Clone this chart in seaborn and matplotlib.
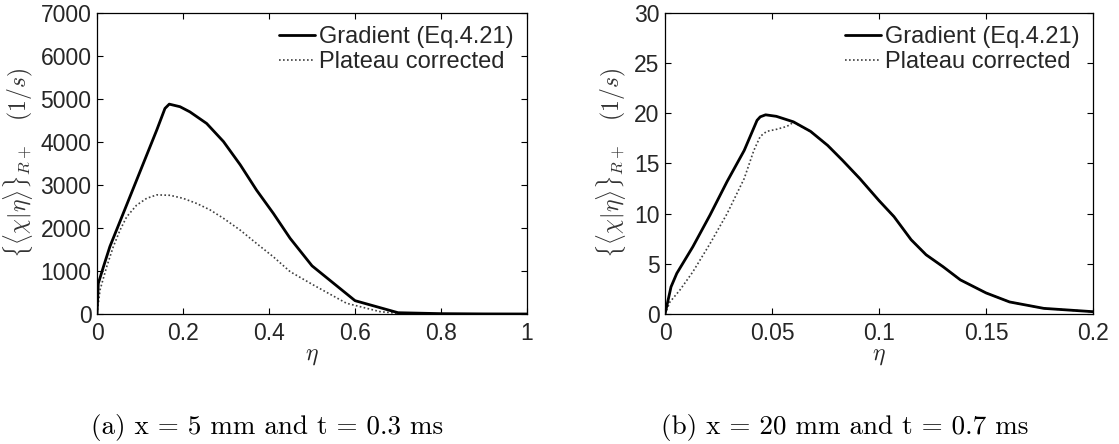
import numpy as np
import pandas as pd
import matplotlib
matplotlib.use("Agg")
import matplotlib.pyplot as plt
import seaborn as sns

# ---- panel (a): x = 5 mm, t = 0.3 ms ----
eta_grad_a = [0, 0.003, 0.015, 0.03, 0.061, 0.1, 0.139, 0.158, 0.168, 0.193, 0.216,
              0.255, 0.294, 0.333, 0.371, 0.41, 0.449, 0.5, 0.6, 0.7, 0.8, 0.9, 1.0]
chi_grad_a = [0, 710, 1100, 1570, 2340, 3310, 4280, 4780, 4880, 4820, 4700,
              4430, 4010, 3470, 2880, 2340, 1760, 1120, 310, 30, 8, 2, 0]

eta_plat_a = [0, 0.007, 0.0225, 0.038, 0.0535, 0.069, 0.092, 0.1155, 0.139, 0.17, 0.2,
              0.232, 0.263, 0.294, 0.333, 0.371, 0.41, 0.449, 0.503, 0.58, 0.658, 0.7, 0.8, 1.0]
chi_plat_a = [0, 560, 1100, 1570, 1950, 2260, 2530, 2690, 2770, 2760, 2690,
              2570, 2420, 2225, 1950, 1640, 1330, 985, 675, 250, 55, 15, 3, 0]

# ---- panel (b): x = 20 mm, t = 0.7 ms ----
eta_grad_b = [0, 0.0028, 0.0055, 0.013, 0.021, 0.029, 0.037, 0.043, 0.0445, 0.047, 0.052,
              0.06, 0.068, 0.076, 0.083, 0.091, 0.1, 0.107, 0.115, 0.122, 0.13, 0.138,
              0.15, 0.161, 0.177, 0.2]
chi_grad_b = [0, 2.7, 4.05, 6.7, 9.85, 13.2, 16.3, 19.3, 19.65, 19.85, 19.7,
              19.15, 18.2, 16.8, 15.3, 13.5, 11.3, 9.7, 7.4, 5.9, 4.7, 3.4,
              2.1, 1.2, 0.56, 0.23]

eta_plat_b = [0, 0.0023, 0.007, 0.013, 0.021, 0.029, 0.037, 0.0415, 0.0445, 0.0475,
              0.052, 0.057, 0.06, 0.068, 0.076, 0.083, 0.091, 0.1, 0.107, 0.115, 0.122,
              0.13, 0.138, 0.15, 0.161, 0.177, 0.2]
chi_plat_b = [0, 1.2, 2.4, 4.2, 7.0, 10.0, 13.5, 16.3, 17.7, 18.2,
              18.4, 18.7, 19.1, 18.2, 16.8, 15.3, 13.5, 11.3, 9.7, 7.4, 5.9,
              4.7, 3.4, 2.1, 1.2, 0.56, 0.23]

xticks_a = [0, 0.2, 0.4, 0.6, 0.8, 1]
yticks_a = [0, 1000, 2000, 3000, 4000, 5000, 6000, 7000]
xticks_b = [0, 0.05, 0.1, 0.15, 0.2]
yticks_b = [0, 5, 10, 15, 20, 25, 30]

label_grad = "Gradient (Eq.4.21)"
label_plat = "Plateau corrected"
ylabel = r"$\{\langle\chi|\eta\rangle\}_{R+}\quad(1/s)$"
xlabel = r"$\eta$"
caption_a = "(a) x = 5 mm and t = 0.3 ms"
caption_b = "(b) x = 20 mm and t = 0.7 ms"

sns.set_theme(style="white")
plt.rcParams["font.family"] = ["Liberation Sans", "DejaVu Sans"]
plt.rcParams["mathtext.fontset"] = "cm"

fig = plt.figure(figsize=(11.19, 4.44), dpi=100)
ax_a = fig.add_axes([0.0867, 0.2928, 0.3843, 0.678])
ax_b = fig.add_axes([0.5943, 0.2928, 0.3825, 0.678])

TICK_FS = 16.5
LEG_FS = 17
DOT = (0, (1, 1.4))


def draw_panel(ax, eg, cg, ep, cp, xt, yt):
    grad = pd.DataFrame({"eta": eg, "chi": cg})
    plat = pd.DataFrame({"eta": ep, "chi": cp})
    sns.lineplot(data=plat, x="eta", y="chi", ax=ax, color="#404040",
                 linewidth=1.2, linestyle=DOT, label=label_plat, zorder=2)
    sns.lineplot(data=grad, x="eta", y="chi", ax=ax, color="black",
                 linewidth=2.0, label=label_grad, zorder=3)
    ax.set_xlim(xt[0], xt[-1])
    ax.set_ylim(yt[0], yt[-1])
    ax.set_xticks(xt)
    ax.set_yticks(yt)
    ax.set_xticklabels([f"{v:g}" for v in xt])
    ax.set_yticklabels([f"{v:g}" for v in yt])
    ax.tick_params(axis="both", which="both", direction="in", length=4,
                   width=0.8, color="black", labelsize=TICK_FS,
                   top=True, right=True, bottom=True, left=True)
    ax.tick_params(axis="x", pad=6)
    ax.tick_params(axis="y", pad=4)
    for s in ax.spines.values():
        s.set_color("black")
        s.set_linewidth(0.9)
    ax.set_xlabel(xlabel, fontsize=17, labelpad=0)
    ax.set_ylabel(ylabel, fontsize=17, color="#333333", labelpad=4)
    handles, labels = ax.get_legend_handles_labels()
    order = [labels.index(label_grad), labels.index(label_plat)]
    ax.legend([handles[i] for i in order], [labels[i] for i in order],
              loc="upper right", frameon=False, fontsize=LEG_FS,
              handlelength=1.5, handletextpad=0.2, labelspacing=0.12,
              borderaxespad=0.35, borderpad=0.2)


draw_panel(ax_a, eta_grad_a, chi_grad_a, eta_plat_a, chi_plat_a, xticks_a, yticks_a)
draw_panel(ax_b, eta_grad_b, chi_grad_b, eta_plat_b, chi_plat_b, xticks_b, yticks_b)

fig.text(0.2386, 0.038, caption_a, ha="center", va="center",
         family="cmr10", fontsize=19.5, color="black")
fig.text(0.755, 0.038, caption_b, ha="center", va="center",
         family="cmr10", fontsize=19.5, color="black")

fig.savefig("out.png", dpi=100, facecolor="white")
